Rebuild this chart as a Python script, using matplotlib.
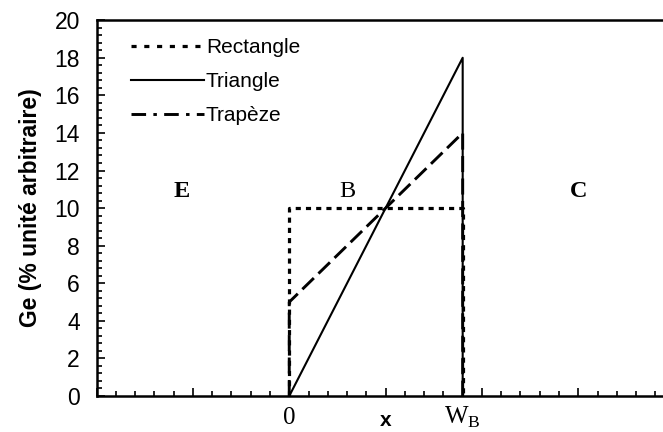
import matplotlib
matplotlib.use("Agg")
import matplotlib.pyplot as plt
from matplotlib.lines import Line2D

# Profile definitions across the base region (x from 0 to W_B)
W_B = 9
rect_x = [0, 0, W_B, W_B]
rect_y = [0, 10, 10, 0]
tri_x = [0, W_B, W_B]
tri_y = [0, 18, 0]
trap_x = [0, 0, W_B, W_B]
trap_y = [0, 5, 14, 0]

series_labels = ["Rectangle", "Triangle", "Trapèze"]
region_labels = ["E", "B", "C"]
region_x = [-5.6, 3.0, 15.0]
region_y = 10.9
region_bold = [True, False, True]

y_ticks = list(range(0, 21, 2))

plt.rcParams["font.family"] = ["Liberation Sans", "DejaVu Sans"]

fig = plt.figure(figsize=(6.63, 4.32), dpi=100)
ax = fig.add_axes([0.1456, 0.0833, 0.872, 0.870])

lw_rect = 2.3
lw_tri = 1.5
lw_trap = 2.1

ax.plot(rect_x, rect_y, color="black", lw=lw_rect, linestyle=(0, (1.6, 1.6)))
ax.plot(tri_x, tri_y, color="black", lw=lw_tri, linestyle="-")
ax.plot(trap_x, trap_y, color="black", lw=lw_trap, linestyle=(0, (5.5, 2.2)))

ax.set_xlim(-10, 20)
ax.set_ylim(0, 20)

ax.set_yticks(y_ticks)
ax.set_yticks([v * 0.4 for v in range(0, 51)], minor=True)
ax.set_xticks(range(-10, 21, 5))
ax.set_xticks(range(-10, 21, 1), minor=True)
ax.set_xticklabels([])

ax.tick_params(axis="both", which="both", direction="in", width=1.2, color="black")
ax.tick_params(axis="both", which="major", length=5.5)
ax.tick_params(axis="both", which="minor", length=3.5)
ax.tick_params(axis="y", which="major", labelsize=16.5, pad=12)
ax.tick_params(axis="x", which="both", labelbottom=False)

for side in ["left", "bottom", "top"]:
    ax.spines[side].set_linewidth(1.8)
ax.spines["right"].set_visible(False)

ax.set_ylabel("Ge (% unité arbitraire)", fontsize=16.5, fontweight="bold", labelpad=9)

# Position labels under the x axis
trans = ax.get_xaxis_transform()
ax.text(0, -0.058, "0", transform=trans, ha="center", va="center",
        fontsize=18, family="Liberation Serif")
ax.text(W_B, -0.056, r"W$_\mathregular{B}$", transform=trans, ha="center", va="center",
        fontsize=18, family="Liberation Serif")
ax.text(5, -0.066, "x", transform=trans, ha="center", va="center",
        fontsize=15, fontweight="bold")

for lab, xx, bold in zip(region_labels, region_x, region_bold):
    ax.text(xx, region_y, lab, ha="center", va="center", fontsize=17.5,
            family="Liberation Serif", fontweight="bold" if bold else "normal")

handles = [
    Line2D([], [], color="black", lw=lw_rect, linestyle=(0, (1.6, 2.4))),
    Line2D([], [], color="black", lw=lw_tri, linestyle="-"),
    Line2D([], [], color="black", lw=lw_trap, linestyle=(0, (5, 2.5, 1.2, 2.5))),
]
ax.legend(handles, series_labels, loc="upper left", bbox_to_anchor=(0.045, 0.975),
          frameon=False, fontsize=15, handlelength=3.5, handletextpad=0.1,
          labelspacing=0.72, borderaxespad=0)

fig.savefig("out.png", dpi=100)
